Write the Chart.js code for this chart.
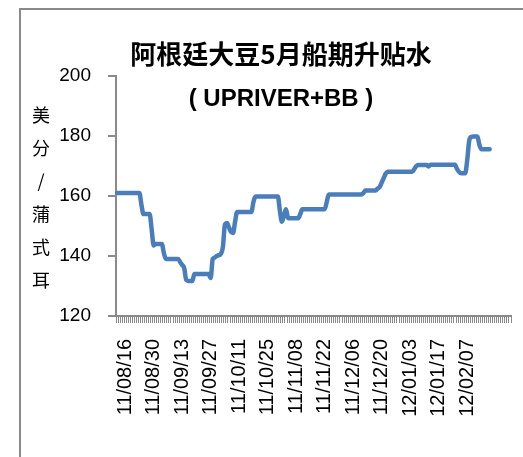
<!DOCTYPE html>
<html>
<head>
<meta charset="utf-8">
<script src="https://cdn.jsdelivr.net/npm/chart.js@4.4.0/dist/chart.umd.min.js"></script>
<style>
  html, body { margin: 0; padding: 0; background: #fff; }
  canvas { display: block; }
</style>
</head>
<body>
<canvas id="chart" width="523" height="457"></canvas>
<script>
// ---- data ----
const tickLabels = ['11/08/16', '11/08/30', '11/09/13', '11/09/27', '11/10/11', '11/10/25',
    '11/11/08', '11/11/22', '11/12/06', '11/12/20', '12/01/03', '12/01/17', '12/02/07']
const labelStep = 14
const categoryCount = 194

const premium = [
    161, 161, 161, 161, 161, 161, 161, 161, 161, 161, 161, 161,
    157, 154, 154, 154, 154, 149, 143.5,
    144, 144, 144, 144, 141,
    139, 139, 139, 139, 139, 139, 139, 138, 137, 136,
    132, 131.7, 131.7, 131.7, 134, 134, 134, 134, 134, 134, 134, 134,
    132.7, 139, 139.5, 140, 140.3, 140.7, 143, 150.5, 151, 149.5, 148, 147.7, 151.5,
    154.7, 154.7, 154.7, 154.7, 154.7, 154.7, 154.7, 154.7, 158, 159.8,
    159.8, 159.8, 159.8, 159.8, 159.8, 159.8, 159.8, 159.8, 159.8, 159.8, 159.8,
    155, 151.4, 153.5, 155.6, 152.6, 152.6, 152.6, 152.6, 152.6, 152.6,
    154, 155.6, 155.6, 155.6, 155.6, 155.6, 155.6, 155.6, 155.6, 155.6, 155.6, 155.6, 155.6, 158,
    160.5, 160.5, 160.5, 160.5, 160.5, 160.5, 160.5, 160.5, 160.5, 160.5, 160.5, 160.5, 160.5, 160.5, 160.5, 160.5, 160.5,
    161, 161.8, 161.8, 161.8, 161.8, 161.8, 161.8, 162.5, 163, 164.5, 166, 167.5,
    168.1, 168.1, 168.1, 168.1, 168.1, 168.1, 168.1, 168.1, 168.1, 168.1, 168.1, 168.1, 168.1,
    169, 170, 170.3, 170.3, 170.3, 170.3, 170.3, 169.8,
    170.4, 170.4, 170.4, 170.4, 170.4, 170.4, 170.4, 170.4, 170.4, 170.4, 170.4, 170.4, 170.4,
    169, 168, 167.6, 167.6, 167.6, 172,
    178.5, 179.7, 179.8, 179.8, 179.8, 177, 175.6, 175.6, 175.6, 175.6, 175.6
]

const yTicks = [120, 140, 160, 180, 200]
const titleLines = ['阿根廷大豆5月船期升贴水', '( UPRIVER+BB )']
const yTitleChars = ['美', '分', '/', '蒲', '式', '耳']

// category labels, only every 14th one carries text
let categories = []
for (let i = 0; i < categoryCount; i++) {
    categories.push(i % labelStep === 0 && tickLabels[i / labelStep] ? tickLabels[i / labelStep] : '')
}

const axisGrey = '#8a8a8a'
const latin = '"Liberation Sans", Arial, sans-serif'
const cjk = '"Noto Sans CJK SC", "Liberation Sans", sans-serif'

// frame + texts drawn on the canvas
const decorations = {
    id: 'decorations',
    beforeDraw(chart) {
        const ctx = chart.ctx
        ctx.save()
        ctx.fillStyle = '#fff'
        ctx.fillRect(0, 0, chart.width, chart.height)
        ctx.strokeStyle = axisGrey
        ctx.lineWidth = 2
        ctx.beginPath()
        ctx.moveTo(20, chart.height + 5)
        ctx.lineTo(20, 9)
        ctx.lineTo(chart.width + 5, 9)
        ctx.stroke()
        ctx.restore()
    },
    afterDraw(chart) {
        const ctx = chart.ctx
        ctx.save()
        ctx.fillStyle = '#000'
        ctx.textAlign = 'center'
        ctx.textBaseline = 'middle'
        ctx.font = 'bold 26px ' + cjk
        ctx.fillText(titleLines[0], 281, 54)
        ctx.font = 'bold 24px ' + latin
        ctx.fillText(titleLines[1], 281, 99)
        ctx.font = '18px ' + cjk
        yTitleChars.forEach((c, i) => {
            ctx.fillText(c, 41, 115 + i * 33)
        })
        ctx.restore()
    }
}

const ctx = document.getElementById('chart').getContext('2d')
new Chart(ctx, {
    type: 'line',
    data: {
        labels: categories,
        datasets: [
            {
                data: premium,
                borderColor: '#4a7ebb',
                borderWidth: 4.5,
                pointRadius: 0,
                cubicInterpolationMode: 'monotone',
                borderJoinStyle: 'round',
                borderCapStyle: 'round',
                fill: false
            }
        ]
    },
    options: {
        responsive: false,
        animation: false,
        layout: { padding: { left: 0, top: 76, right: 12, bottom: 0 } },
        plugins: {
            legend: { display: false },
            title: { display: false },
            tooltip: { enabled: false }
        },
        scales: {
            x: {
                offset: true,
                afterFit: (scale) => {
                    scale.height = 141
                    scale.paddingLeft = 0
                    scale.paddingRight = 0
                },
                border: { color: axisGrey, width: 2 },
                grid: {
                    offset: true,
                    drawOnChartArea: false,
                    drawTicks: true,
                    tickLength: 7,
                    color: axisGrey,
                    lineWidth: 1
                },
                ticks: {
                    autoSkip: false,
                    maxRotation: 90,
                    minRotation: 90,
                    padding: 16,
                    labelOffset: 8,
                    color: '#000',
                    font: { family: latin, size: 20 }
                }
            },
            y: {
                min: 120,
                max: 200,
                afterFit: (scale) => {
                    scale.width = 116
                    scale.paddingTop = 0
                    scale.paddingBottom = 0
                },
                afterBuildTicks: (scale) => { scale.ticks = yTicks.map(v => ({ value: v })) },
                border: { color: axisGrey, width: 2 },
                grid: {
                    drawOnChartArea: false,
                    drawTicks: true,
                    tickLength: 8,
                    color: axisGrey,
                    lineWidth: 2
                },
                ticks: {
                    padding: 17,
                    color: '#000',
                    font: { family: latin, size: 19 }
                }
            }
        }
    },
    plugins: [decorations]
})
</script>
</body>
</html>
